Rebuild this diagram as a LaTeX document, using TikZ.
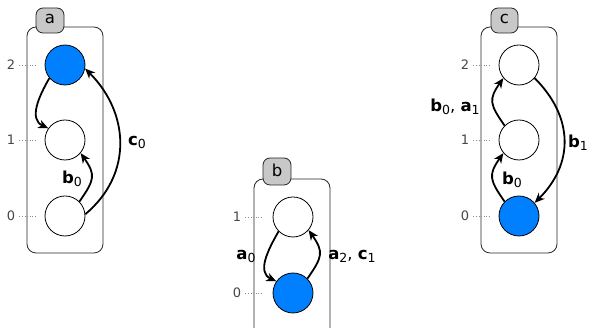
\documentclass[tikz,border=0pt]{standalone}
\usepackage{fontspec}
\setmainfont{DejaVu Sans}
\usetikzlibrary{arrows.meta}
\definecolor{stateblue}{RGB}{0,128,255}
\definecolor{tabgray}{RGB}{200,200,200}
\definecolor{ticktext}{RGB}{70,70,70}
\newcommand\edgelbl[2]{\textbf{#1}\raisebox{-3pt}{\fontsize{12.5}{13}\selectfont #2}}
\tikzset{
  x=1pt, y=1pt,
  panel/.style={draw=black!85, line width=0.8pt, rounded corners=9pt},
  tabbox/.style={draw=black!85, fill=tabgray, line width=0.8pt, rounded corners=7pt},
  tablbl/.style={font=\fontsize{16.5}{18}\selectfont, inner sep=0pt},
  state/.style={circle, draw=black, line width=0.8pt, minimum size=40pt, inner sep=0pt, fill=white},
  active/.style={state, fill=stateblue},
  ticklbl/.style={font=\fontsize{13}{14}\selectfont, text=ticktext, inner sep=0pt},
  tickline/.style={draw=black!45, line width=0.6pt, dash pattern=on 1pt off 1.6pt},
  trans/.style={draw=black, line width=1.8pt, -{Stealth[length=10pt, width=8.5pt, inset=3pt]}},
  elbl/.style={font=\fontsize{16.5}{18}\selectfont, inner sep=0pt}
}
\begin{document}
\begin{tikzpicture}
\useasboundingbox (0,0) rectangle (592,328);
\clip (0,0) rectangle (592,328);

% ---- component a ----
\draw[panel] (27,75) rectangle (103,301);
\draw[tabbox] (36,295) rectangle (64,320);
\node[tablbl] (taba) at (50,309) {a};
\node[active] (a2) at (65,263) {};
\node[state]  (a1) at (65,188) {};
\node[state]  (a0) at (65,112) {};
\node[ticklbl] (la2) at (11,263) {2};
\node[ticklbl] (la1) at (11,188) {1};
\node[ticklbl] (la0) at (11,112) {0};
\coordinate (ea2) at (36,263);
\coordinate (ea1) at (36,188);
\coordinate (ea0) at (36,112);
\draw[tickline] ([xshift=4pt]la2.east) -- (ea2);
\draw[tickline] ([xshift=4pt]la1.east) -- (ea1);
\draw[tickline] ([xshift=4pt]la0.east) -- (ea0);
\draw[trans] (a2.220) to[out=240, in=155, looseness=1.1] (a1.145);
\draw[trans] (a0.45) to[out=55, in=-55, looseness=1.4] (a1.-40);
\draw[trans] (a0.5) to[out=40, in=-45, looseness=1.1] (a2.-10);
\node[elbl] (ta) at (72,149) {\edgelbl{b}{0}};
\node[elbl] (tb) at (137,186) {\edgelbl{c}{0}};

% ---- component b ----
\draw[panel] (254,-20) rectangle (330,149);
\draw[tabbox] (263,143) rectangle (291,170);
\node[tablbl] (tabb) at (277,158) {b};
\node[state]  (b1) at (293,111) {};
\node[active] (b0) at (293,35) {};
\node[ticklbl] (lb1) at (237,111) {1};
\node[ticklbl] (lb0) at (237,35) {0};
\coordinate (eb1) at (263,111);
\coordinate (eb0) at (263,35);
\draw[tickline] ([xshift=4pt]lb1.east) -- (eb1);
\draw[tickline] ([xshift=4pt]lb0.east) -- (eb0);
\draw[trans] (b1.225) to[out=240, in=155, looseness=1.1] (b0.145);
\draw[trans] (b0.45) to[out=55, in=-55, looseness=1.4] (b1.-40);
\node[elbl] (tc) at (246,72) {\edgelbl{a}{0}};
\node[elbl] (td) at (352,72) {\edgelbl{a}{2}, \edgelbl{c}{1}};

% ---- component c ----
\draw[panel] (481,75) rectangle (557,301);
\draw[tabbox] (491,295) rectangle (518,320);
\node[tablbl] (tabc) at (504.5,309) {c};
\node[state]  (c2) at (519,263) {};
\node[state]  (c1) at (519,188) {};
\node[active] (c0) at (519,112) {};
\node[ticklbl] (lc2) at (465,263) {2};
\node[ticklbl] (lc1) at (465,188) {1};
\node[ticklbl] (lc0) at (465,112) {0};
\coordinate (ec2) at (489,263);
\coordinate (ec1) at (489,188);
\coordinate (ec0) at (489,112);
\draw[tickline] ([xshift=4pt]lc2.east) -- (ec2);
\draw[tickline] ([xshift=4pt]lc1.east) -- (ec1);
\draw[tickline] ([xshift=4pt]lc0.east) -- (ec0);
\draw[trans] (c0.135) to[out=125, in=235, looseness=1.4] (c1.220);
\draw[trans] (c1.135) to[out=125, in=235, looseness=1.4] (c2.220);
\draw[trans] (c2.-40) to[out=-45, in=45, looseness=1.14] (c0.40);
\node[elbl] (te) at (512,148) {\edgelbl{b}{0}};
\node[elbl] (tf) at (455,221) {\edgelbl{b}{0}, \edgelbl{a}{1}};
\node[elbl] (tg) at (578,185) {\edgelbl{b}{1}};
\end{tikzpicture}
\end{document}
